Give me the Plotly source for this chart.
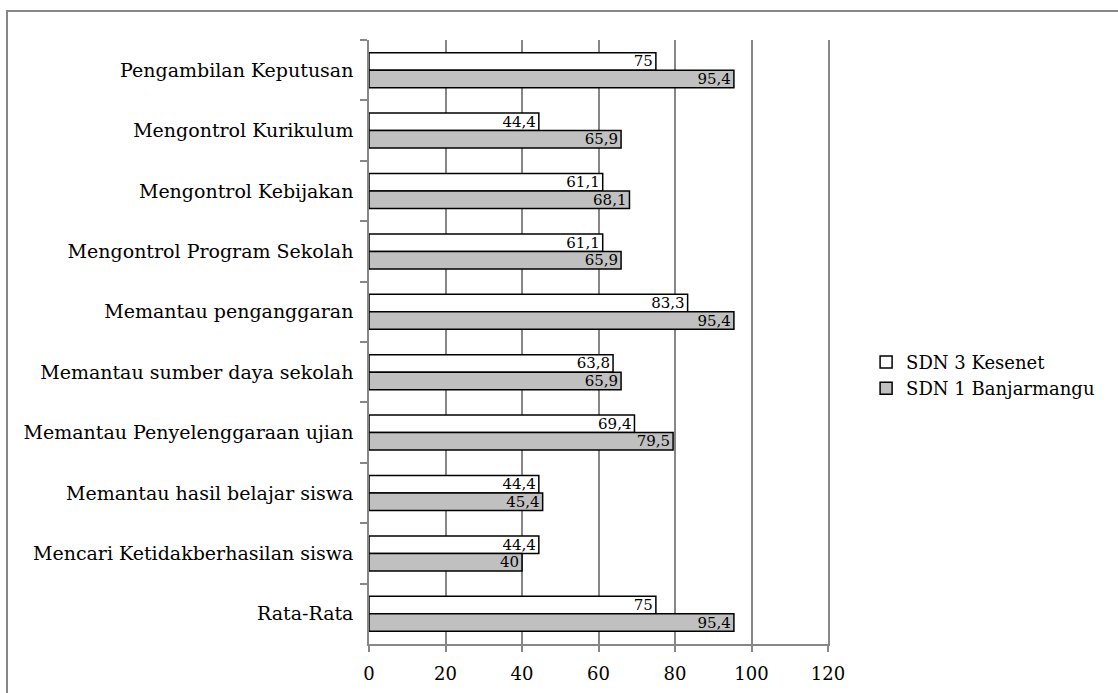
import plotly.graph_objects as go

categories = [
    "Pengambilan Keputusan",
    "Mengontrol Kurikulum",
    "Mengontrol Kebijakan",
    "Mengontrol Program Sekolah",
    "Memantau penganggaran",
    "Memantau sumber daya sekolah",
    "Memantau Penyelenggaraan ujian",
    "Memantau hasil belajar siswa",
    "Mencari Ketidakberhasilan siswa",
    "Rata-Rata",
]
sdn3_kesenet = [75, 44.4, 61.1, 61.1, 83.3, 63.8, 69.4, 44.4, 44.4, 75]
sdn1_banjarmangu = [95.4, 65.9, 68.1, 65.9, 95.4, 65.9, 79.5, 45.4, 40, 95.4]
x_ticks = [0, 20, 40, 60, 80, 100, 120]

FONT = "DejaVu Serif"
GRID = "#878787"


def fmt(v):
    # decimal comma labels
    return f"{v:g}".replace(".", ",")


fig = go.Figure()
for name, vals, fill in [
    ("SDN 3 Kesenet", sdn3_kesenet, "#ffffff"),
    ("SDN 1 Banjarmangu", sdn1_banjarmangu, "#c0c0c0"),
]:
    fig.add_trace(go.Bar(
        y=categories, x=vals, name=name, orientation="h",
        marker=dict(color=fill, line=dict(color="#000000", width=1.5)),
        text=[fmt(v) for v in vals],
        textposition="inside", insidetextanchor="end", textangle=0,
        constraintext="none", cliponaxis=False,
        textfont=dict(family=FONT, size=15, color="#000000"),
    ))

fig.update_layout(
    width=1118, height=693,
    margin=dict(l=369, r=290, t=40, b=49, autoexpand=False),
    paper_bgcolor="#ffffff", plot_bgcolor="#ffffff",
    barmode="group", bargap=0.42, bargroupgap=0,
    font=dict(family=FONT, size=18, color="#000000"),
    showlegend=True,
    legend=dict(
        x=1.083, y=0.445, xanchor="left", yanchor="middle",
        font=dict(family=FONT, size=18, color="#000000"),
        itemwidth=30,
    ),
    xaxis=dict(
        range=[0, 120], tickvals=x_ticks, ticktext=[str(t) for t in x_ticks],
        showgrid=True, gridcolor=GRID, gridwidth=1.5,
        showline=True, linecolor=GRID, linewidth=1.5,
        ticks="outside", ticklen=6, tickcolor=GRID, tickwidth=1.5,
        ticklabelstandoff=7, automargin=False,
        zeroline=False, tickfont=dict(family=FONT, size=18),
    ),
    yaxis=dict(
        autorange="reversed", type="category",
        showgrid=False, showline=True, linecolor=GRID, linewidth=1.5,
        mirror=True, automargin=False,
        ticks="outside", ticklen=7, tickcolor=GRID, tickwidth=1.5,
        tickson="boundaries", ticklabelstandoff=10,
        tickfont=dict(family=FONT, size=19),
    ),
    shapes=[dict(
        type="rect", xref="paper", yref="paper",
        x0=(7 - 369) / 459, x1=2.5, y0=-1.0, y1=(644 - 11) / 604,
        line=dict(color=GRID, width=2), fillcolor="rgba(0,0,0,0)",
        layer="below",
    )],
)

fig.write_html("out.html")
